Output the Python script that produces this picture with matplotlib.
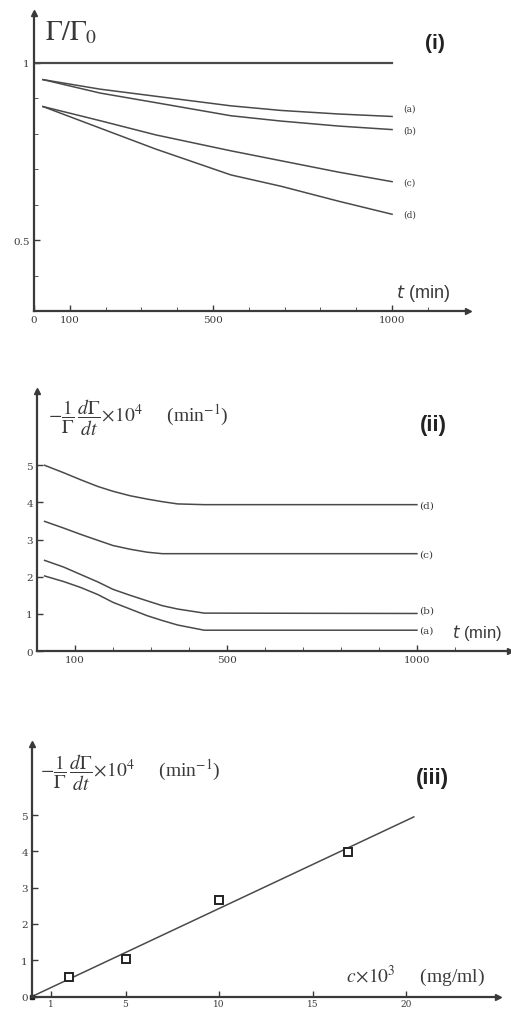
import matplotlib
matplotlib.use('Agg')
import matplotlib.pyplot as plt
import numpy as np

# ---- panel (i): relative surface concentration vs time ----
t_i = [25, 185, 340, 550, 690, 850, 1000]
ratio_a = [0.953, 0.926, 0.906, 0.879, 0.866, 0.856, 0.849]
ratio_b = [0.953, 0.915, 0.888, 0.851, 0.836, 0.822, 0.812]
ratio_c = [0.877, 0.837, 0.797, 0.752, 0.724, 0.692, 0.665]
ratio_d = [0.877, 0.816, 0.757, 0.684, 0.652, 0.610, 0.573]
ref_t = [0, 1000]
ref_ratio = [1.0, 1.0]

# ---- panel (ii): decay rate vs time ----
t_ii = [20, 70, 115, 160, 200, 245, 290, 330, 370, 440, 1000]
rate_a = [2.02, 1.87, 1.71, 1.52, 1.31, 1.13, 0.95, 0.82, 0.70, 0.56, 0.56]
rate_b = [2.44, 2.26, 2.06, 1.86, 1.66, 1.50, 1.35, 1.22, 1.13, 1.02, 1.01]
rate_c = [3.49, 3.31, 3.14, 2.98, 2.84, 2.74, 2.66, 2.62, 2.62, 2.62, 2.62]
rate_d = [5.00, 4.80, 4.61, 4.43, 4.30, 4.18, 4.09, 4.02, 3.96, 3.94, 3.94]

# ---- panel (iii): rate vs concentration ----
conc = [2.0, 5.0, 10.0, 16.9]
rate = [0.55, 1.02, 2.65, 3.98]
fit_c = [0, 20.4]
fit_rate = [0, 4.95]

INK = '#3a3a3a'
LINE = '#4a4a4a'
SERIF = 'DejaVu Serif'
SANS = 'Liberation Sans'
RATE_LABEL = r'$-\dfrac{1}{\Gamma}\,\dfrac{d\Gamma}{dt}\!\times\!10^4$     (min$^{-1}$)'

W, H = 511, 1012
fig = plt.figure(figsize=(W / 100, H / 100), dpi=100)


def make_axes(x0, y_bottom, x1, y_top):
    """Axes from pixel box (y measured from the top of the image)."""
    ax = fig.add_axes([x0 / W, 1 - y_bottom / H, (x1 - x0) / W, (y_bottom - y_top) / H])
    for s in ('top', 'right'):
        ax.spines[s].set_visible(False)
    for s in ('left', 'bottom'):
        ax.spines[s].set_color(INK)
        ax.spines[s].set_linewidth(1.6)
    ax.tick_params(colors=INK, direction='in', length=4, width=1.0,
                   labelsize=7.5, pad=3)
    # arrow heads at the axis ends
    ax.plot(1, 0, marker='>', color=INK, ms=4, transform=ax.transAxes, clip_on=False)
    ax.plot(0, 1, marker='^', color=INK, ms=4, transform=ax.transAxes, clip_on=False)
    return ax


def set_ticklabel_font(ax):
    for lab in ax.get_xticklabels() + ax.get_yticklabels():
        lab.set_family(SERIF)
        lab.set_color(INK)


# ================= panel (i) =================
ax1 = make_axes(34, 312, 468, 14)
ax1.set_xlim(0, 1212)
ax1.set_ylim(0.3, 1.141)
ax1.plot(ref_t, ref_ratio, color=LINE, lw=1.6)
for y in (ratio_a, ratio_b, ratio_c, ratio_d):
    ax1.plot(t_i, y, color=LINE, lw=1.1)
ax1.set_xticks([0, 100, 500, 1000])
ax1.set_xticks(np.arange(100, 1101, 100), minor=True)
ax1.set_yticks([0.5, 1.0])
ax1.set_yticklabels(['0.5', '1'])
ax1.set_yticks(np.arange(0.4, 1.01, 0.1), minor=True)
ax1.tick_params(which='minor', direction='in', length=3, color=INK)
set_ticklabel_font(ax1)
for lab, yv in zip(['(a)', '(b)', '(c)', '(d)'], [0.873, 0.812, 0.665, 0.573]):
    ax1.text(1031, yv, lab, fontsize=6.5, family=SERIF, color=INK, va='center')
ax1.text(31, 1.088, r'$\Gamma/\Gamma_0$', fontsize=20, color=INK, va='center',
         math_fontfamily='stix')
ax1.text(1120, 1.059, '(i)', fontsize=15, fontweight='bold', family=SANS,
         color='#222222', ha='center', va='center')
ax1.text(1012, 0.353, r'$\it{t}$ (min)', fontsize=13, family=SANS, color=INK,
         va='center')

# ================= panel (ii) =================
ax2 = make_axes(37, 652, 510, 392)
ax2.set_xlim(0, 1245)
ax2.set_ylim(0, 7.0)
for y in (rate_a, rate_b, rate_c, rate_d):
    ax2.plot(t_ii, y, color=LINE, lw=1.1)
ax2.set_xticks([100, 500, 1000])
ax2.set_xticks(np.arange(100, 1101, 100), minor=True)
ax2.set_yticks(range(0, 6))
ax2.tick_params(which='minor', direction='in', length=3, color=INK)
set_ticklabel_font(ax2)
for lab, yv in zip(['(d)', '(c)', '(b)', '(a)'], [3.94, 2.62, 1.10, 0.56]):
    ax2.text(1006, yv, lab, fontsize=7.5, family=SERIF, color=INK, va='center')
ax2.text(29, 6.31, RATE_LABEL, fontsize=14, color=INK, va='center',
         math_fontfamily='stix', family='Liberation Serif')
ax2.text(1042, 6.09, '(ii)', fontsize=16, fontweight='bold', family=SANS,
         color='#222222', ha='center', va='center')
ax2.text(1093, 0.51, r'$\it{t}$ (min)', fontsize=12, family=SANS, color=INK,
         va='center')

# ================= panel (iii) =================
ax3 = make_axes(32, 997.5, 498, 745)
ax3.set_xlim(0, 24.9)
ax3.set_ylim(0, 6.96)
ax3.plot(fit_c, fit_rate, color=LINE, lw=1.1)
ax3.plot(conc, rate, linestyle='none', marker='s', ms=6, mfc='white',
         mec='#222222', mew=1.4)
ax3.plot([0], [0], marker='s', ms=3.5, color='#222222', clip_on=False)
ax3.set_xticks([1, 5, 10, 15, 20])
ax3.set_yticks(range(0, 6))
ax3.tick_params(axis='x', pad=1.5, labelsize=6.5)
set_ticklabel_font(ax3)
ax3.text(0.43, 6.18, RATE_LABEL, fontsize=14, color=INK, va='center',
         math_fontfamily='stix', family='Liberation Serif')
ax3.text(21.4, 6.04, '(iii)', fontsize=16, fontweight='bold', family=SANS,
         color='#222222', ha='center', va='center')
ax3.text(16.8, 0.57, r'$c\!\times\!10^3$     (mg/ml)', fontsize=14,
         family='Liberation Serif', color=INK, va='center',
         math_fontfamily='stix')

fig.savefig('out.png', dpi=100)
